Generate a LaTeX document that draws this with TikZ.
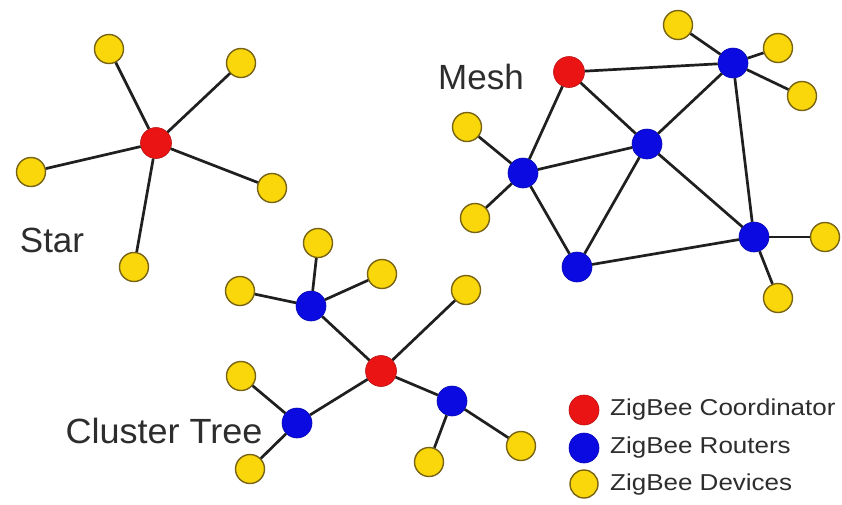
\documentclass[tikz,border=0pt]{standalone}
\usepackage{fontspec}
\setmainfont{Liberation Sans}
\definecolor{zred}{RGB}{235,20,20}
\definecolor{zblue}{RGB}{10,10,225}
\definecolor{zyel}{RGB}{250,215,10}
\definecolor{zyeldraw}{RGB}{120,100,20}
\definecolor{ztext}{RGB}{45,45,45}
\begin{document}
\begin{tikzpicture}[x=1pt,y=-1pt,
  coord/.style={circle,fill=zred,draw=zred!80!black,line width=0.6pt,minimum size=31pt,inner sep=0pt},
  router/.style={circle,fill=zblue,draw=zblue!80!black,line width=0.6pt,minimum size=30pt,inner sep=0pt},
  device/.style={circle,fill=zyel,draw=zyeldraw,line width=1.4pt,minimum size=29pt,inner sep=0pt},
  link/.style={line width=2.7pt,draw=black!88},
  title/.style={text=ztext,font=\fontsize{35}{40}\selectfont,inner sep=0pt},
  legtext/.style={text=ztext,font=\fontsize{23}{26}\selectfont,inner sep=0pt,anchor=west}]
\useasboundingbox[fill=white] (0,0) rectangle (842,504);

% ---------- Star ----------
\node[coord] (sc) at (156,143) {};
\node[device] (s1) at (109,49) {};
\node[device] (s2) at (241,63) {};
\node[device] (s3) at (31,172) {};
\node[device] (s4) at (272,188) {};
\node[device] (s5) at (134,267) {};
\foreach \d in {s1,s2,s3,s4,s5} \draw[link] (sc) -- (\d);
\node[title] (startxt) at (52,240) {Star};

% ---------- Mesh ----------
\node[coord] (mc) at (569,72) {};
\node[router] (mr1) at (733,63) {};
\node[router] (mr2) at (647,144) {};
\node[router] (mr3) at (523,173) {};
\node[router] (mr4) at (577,267) {};
\node[router] (mr5) at (754,237) {};
\node[device] (md1) at (678,25) {};
\node[device] (md2) at (778,48) {};
\node[device] (md3) at (802,96) {};
\node[device] (md4) at (467,127) {};
\node[device] (md5) at (475,218) {};
\node[device] (md6) at (825,237) {};
\node[device] (md7) at (778,298) {};
\draw[link] (mc) -- (mr1);
\draw[link] (mc) -- (mr2);
\draw[link] (mc) -- (mr3);
\draw[link] (mr1) -- (mr2);
\draw[link] (mr1) -- (mr5);
\draw[link] (mr3) -- (mr2);
\draw[link] (mr3) -- (mr4);
\draw[link] (mr2) -- (mr4);
\draw[link] (mr2) -- (mr5);
\draw[link] (mr4) -- (mr5);
\draw[link] (mr1) -- (md1);
\draw[link] (mr1) -- (md2);
\draw[link] (mr1) -- (md3);
\draw[link] (mr3) -- (md4);
\draw[link] (mr3) -- (md5);
\draw[link] (mr5) -- (md6);
\draw[link] (mr5) -- (md7);
\node[title] (meshtxt) at (481,77) {Mesh};

% ---------- Cluster Tree ----------
\node[coord] (tc) at (381,371) {};
\node[router] (tr1) at (311,306) {};
\node[router] (tr2) at (452,401) {};
\node[router] (tr3) at (297,423) {};
\node[device] (td1) at (318,243) {};
\node[device] (td2) at (382,274) {};
\node[device] (td3) at (240,291) {};
\node[device] (td4) at (466,290) {};
\node[device] (td5) at (241,376) {};
\node[device] (td6) at (250,469) {};
\node[device] (td7) at (429,462) {};
\node[device] (td8) at (521,446) {};
\draw[link] (tc) -- (tr1);
\draw[link] (tc) -- (tr2);
\draw[link] (tc) -- (tr3);
\draw[link] (tc) -- (td4);
\draw[link] (tr1) -- (td1);
\draw[link] (tr1) -- (td2);
\draw[link] (tr1) -- (td3);
\draw[link] (tr3) -- (td5);
\draw[link] (tr3) -- (td6);
\draw[link] (tr2) -- (td7);
\draw[link] (tr2) -- (td8);
\node[title] (treetxt) at (164,431) {\scalebox{1.03}[1]{Cluster Tree}};

% ---------- Legend ----------
\node[coord,minimum size=30pt] (lc) at (584,410) {};
\node[router,minimum size=30pt] (lr) at (584,448) {};
\node[device,minimum size=28pt] (ld) at (584,484) {};
\node[legtext] (lct) at (610,410) {\scalebox{1.13}[1]{ZigBee Coordinator}};
\node[legtext] (lrt) at (610,448) {\scalebox{1.13}[1]{ZigBee Routers}};
\node[legtext] (ldt) at (610,485) {\scalebox{1.13}[1]{ZigBee Devices}};
\end{tikzpicture}
\end{document}
